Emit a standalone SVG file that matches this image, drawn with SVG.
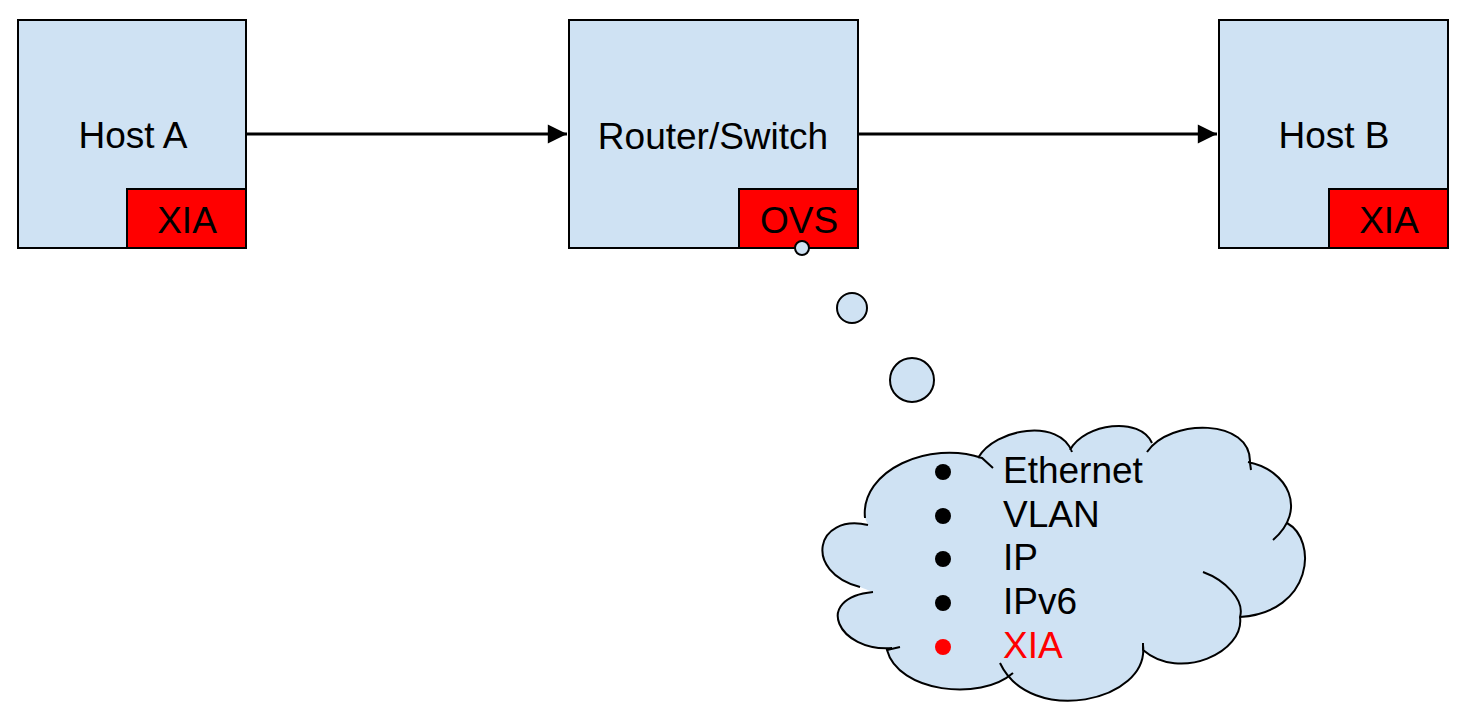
<svg xmlns="http://www.w3.org/2000/svg" width="1468" height="716" viewBox="0 0 1468 716">
<style>
.box{fill:#cfe2f3;stroke:#000;stroke-width:2}
.tag{fill:#ff0000;stroke:#000;stroke-width:2}
.lbl{font-family:"Liberation Sans",Arial,sans-serif;font-size:37px;fill:#000;text-anchor:middle}
.item{font-family:"Liberation Sans",Arial,sans-serif;font-size:37px;fill:#000}
.conn{stroke:#000;stroke-width:3;fill:none}
.bub{fill:#cfe2f3;stroke:#000;stroke-width:2}
</style>
<defs>
<marker id="arr" viewBox="0 0 10 10" refX="10" refY="5" markerWidth="8" markerHeight="6.4" orient="auto" markerUnits="strokeWidth">
<path d="M0,0 L10,5 L0,10 z" fill="#000"/>
</marker>
</defs>
<rect width="1468" height="716" fill="#fff"/>
<g id="connectors">
<line class="conn" x1="246" y1="134" x2="567" y2="134" marker-end="url(#arr)"/>
<line class="conn" x1="858" y1="134" x2="1217" y2="134" marker-end="url(#arr)"/>
</g>
<g id="hostA">
<rect class="box" x="18" y="20" width="228" height="228"/>
<text class="lbl" x="133" y="148">Host A</text>
<rect class="tag" x="127" y="189" width="119" height="59"/>
<text class="lbl" x="187" y="233">XIA</text>
</g>
<g id="router">
<rect class="box" x="569" y="20" width="289" height="228"/>
<text class="lbl" x="713" y="149">Router/Switch</text>
<rect class="tag" x="739" y="189" width="119" height="59"/>
<text class="lbl" x="799" y="233">OVS</text>
</g>
<g id="hostB">
<rect class="box" x="1219" y="20" width="229" height="228"/>
<text class="lbl" x="1334" y="148">Host B</text>
<rect class="tag" x="1329" y="189" width="119" height="59"/>
<text class="lbl" x="1389" y="233">XIA</text>
</g>
<g id="thought">
<circle class="bub" cx="802" cy="248" r="7"/>
<circle class="bub" cx="852" cy="308" r="15"/>
<circle class="bub" cx="912" cy="380" r="22"/>
<path d="M865 518 C860 470 930 440 982 458 L978 458 C995 428 1060 418 1072 452 L1070 450 C1085 423 1140 416 1152 443 L1147 452 C1170 418 1252 418 1250 463 L1248 462 C1288 470 1308 510 1273 540 L1287 523 C1318 540 1313 612 1240 617 C1245 652 1180 682 1143 650 L1143 645 C1150 702 1030 727 1000 663 L1013 673 C980 702 898 692 887 650 L892 648 C838 652 812 598 873 592 L860 587 C803 572 815 513 868 525 Z" fill="#cfe2f3" stroke="none"/>
<path fill="none" stroke="#000" stroke-width="2" d="M865 518 C860 470 930 440 982 458 L993 468 M978 458 C995 428 1060 418 1072 452 M1070 450 C1085 423 1140 416 1152 443 M1147 452 C1170 418 1252 418 1250 463 L1251 470 M1248 462 C1288 470 1308 510 1273 540 M1287 523 C1318 540 1313 612 1240 617 M1203 572 C1225 580 1245 600 1240 617 C1245 652 1180 682 1143 650 L1143 643 M1143 645 C1150 702 1030 727 1000 663 M1013 673 C980 702 898 692 887 650 L900 647 M892 648 C838 652 812 598 873 592 M860 587 C803 572 815 513 868 525"/>
<g class="item">
<circle cx="943" cy="472" r="8" fill="#000"/>
<text class="item" x="1003" y="483">Ethernet</text>
<circle cx="943" cy="516" r="8" fill="#000"/>
<text class="item" x="1003" y="527">VLAN</text>
<circle cx="943" cy="559" r="8" fill="#000"/>
<text class="item" x="1003" y="570">IP</text>
<circle cx="943" cy="603" r="8" fill="#000"/>
<text class="item" x="1003" y="614">IPv6</text>
<circle cx="943" cy="647" r="8" fill="#ff0000"/>
<text class="item" x="1003" y="658" style="fill:#ff0000">XIA</text>
</g>
</g>
</svg>
